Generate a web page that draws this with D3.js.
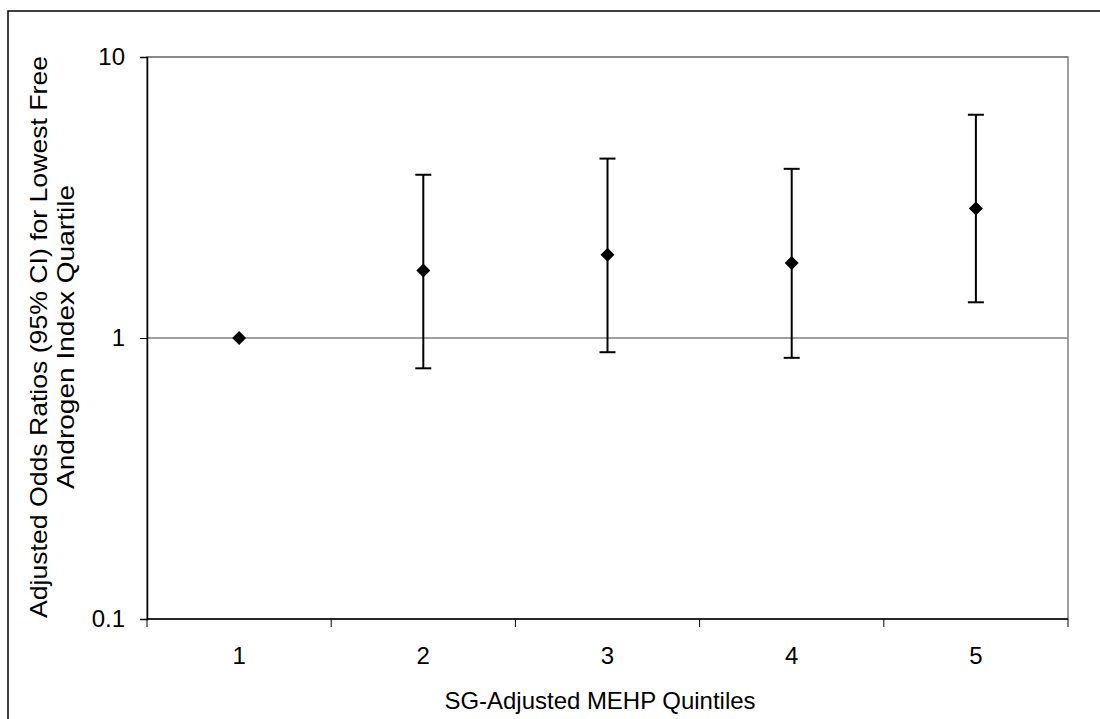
<!DOCTYPE html>
<html>
<head>
<meta charset="utf-8">
<script src="https://cdn.jsdelivr.net/npm/d3@7"></script>
<style>
  body { margin: 0; background: #fff; }
  text { font-family: "Liberation Sans", Arial, sans-serif; fill: #000; }
</style>
</head>
<body>
<div id="chart"></div>
<script>
var svgWidth = 1100;
var svgHeight = 719;

// data
var quintiles = ["1", "2", "3", "4", "5"];
var oddsRatio = [1.0, 1.74, 1.98, 1.85, 2.89];
var ciLow = [null, 0.78, 0.89, 0.85, 1.34];
var ciHigh = [null, 3.81, 4.35, 4.0, 6.23];
var yTicks = [0.1, 1, 10];

var margin = { top: 57, right: 32, bottom: 100, left: 147 };
var width = svgWidth - margin.left - margin.right;   // 921
var height = 619 - margin.top;                       // 562

var svg = d3.select("#chart").append("svg")
  .attr("width", svgWidth)
  .attr("height", svgHeight);

// outer chart border (runs off the right and bottom of the page)
svg.append("rect")
  .attr("x", 8).attr("y", 11)
  .attr("width", 1100).attr("height", 800)
  .attr("fill", "none").attr("stroke", "#000").attr("stroke-width", 1.5);

var g = svg.append("g").attr("transform", `translate(${margin.left}, ${margin.top})`);

var x = d3.scaleBand().domain(quintiles).range([0, width]);
var y = d3.scaleLog().domain([0.1, 10]).range([height, 0]);

// plot frame (gray top / right)
g.append("rect")
  .attr("width", width).attr("height", height)
  .attr("fill", "none").attr("stroke", "#808080").attr("stroke-width", 1.5);

// gridlines
g.selectAll(".grid").data(yTicks.slice(1))
  .enter().append("line")
  .attr("x1", 0).attr("x2", width)
  .attr("y1", d => y(d)).attr("y2", d => y(d))
  .attr("stroke", "#808080").attr("stroke-width", 1.5);

// y axis
var yAxis = d3.axisLeft(y).tickValues(yTicks).tickSize(7).tickPadding(15)
  .tickFormat(d => d3.format("~g")(d));
var ya = g.append("g").call(yAxis);
ya.select(".domain").attr("stroke", "#000").attr("stroke-width", 1.5);
ya.selectAll(".tick line").attr("stroke", "#000");
ya.selectAll("text").style("font-size", "24px").attr("font-family", "Liberation Sans, Arial, sans-serif");

// x axis: ticks on category boundaries, labels centred
var xa = g.append("g").attr("transform", `translate(0, ${height})`);
xa.append("line").attr("x1", 0).attr("x2", width).attr("stroke", "#000").attr("stroke-width", 1.5);
var bounds = quintiles.map(q => x(q)).concat([width]);
xa.selectAll(".xt").data(bounds).enter().append("line")
  .attr("x1", d => d).attr("x2", d => d)
  .attr("y1", 0).attr("y2", 8)
  .attr("stroke", "#000");
xa.selectAll(".xl").data(quintiles).enter().append("text")
  .attr("x", d => x(d) + x.bandwidth() / 2)
  .attr("y", 45)
  .attr("text-anchor", "middle")
  .style("font-size", "24px")
  .text(d => d);

// error bars
var pts = quintiles.map((q, i) => ({ q: q, or: oddsRatio[i], lo: ciLow[i], hi: ciHigh[i] }));
var bars = g.selectAll(".err").data(pts.filter(d => d.lo != null)).enter().append("g");
var cx = d => x(d.q) + x.bandwidth() / 2;
bars.append("line")
  .attr("x1", cx).attr("x2", cx)
  .attr("y1", d => y(d.lo)).attr("y2", d => y(d.hi))
  .attr("stroke", "#000").attr("stroke-width", 2);
bars.append("line")
  .attr("x1", d => cx(d) - 8).attr("x2", d => cx(d) + 8)
  .attr("y1", d => y(d.hi)).attr("y2", d => y(d.hi))
  .attr("stroke", "#000").attr("stroke-width", 2);
bars.append("line")
  .attr("x1", d => cx(d) - 8).attr("x2", d => cx(d) + 8)
  .attr("y1", d => y(d.lo)).attr("y2", d => y(d.lo))
  .attr("stroke", "#000").attr("stroke-width", 2);

// diamond markers
g.selectAll(".pt").data(pts).enter().append("path")
  .attr("d", "M0,-7L7,0L0,7L-7,0Z")
  .attr("transform", d => `translate(${cx(d)}, ${y(d.or)})`)
  .attr("fill", "#000");

// axis titles (text in the original is drawn wide, so stretch to fit)
svg.append("text")
  .attr("x", 600).attr("y", 709)
  .attr("text-anchor", "middle")
  .attr("textLength", 311).attr("lengthAdjust", "spacingAndGlyphs")
  .style("font-size", "24px")
  .text("SG-Adjusted MEHP Quintiles");

var yt = svg.append("g")
  .attr("transform", `translate(47, 337) rotate(-90)`);
yt.append("text")
  .attr("x", 0).attr("y", 0)
  .attr("text-anchor", "middle")
  .attr("textLength", 562).attr("lengthAdjust", "spacingAndGlyphs")
  .style("font-size", "24px")
  .text("Adjusted Odds Ratios (95% CI) for Lowest Free");
yt.append("text")
  .attr("x", 0).attr("y", 27)
  .attr("text-anchor", "middle")
  .attr("textLength", 304).attr("lengthAdjust", "spacingAndGlyphs")
  .style("font-size", "24px")
  .text("Androgen Index Quartile");
</script>
</body>
</html>
